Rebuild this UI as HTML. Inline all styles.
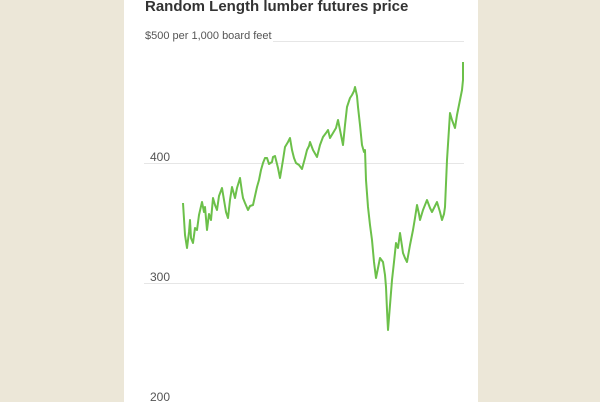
<!DOCTYPE html>
<html><head><style>
body{margin:0;width:600px;height:402px;overflow:hidden;background:#ece7d8;font-family:"Liberation Sans",sans-serif}
.p{position:absolute;left:124px;top:0;width:354px;height:402px;background:#fff}
</style></head><body>
<div class="p"></div>
<svg width="600" height="402" style="position:absolute;left:0;top:0">
<text x="145" y="11" font-size="15" font-weight="bold" fill="#333">Random Length lumber futures price</text>
<g stroke="#e6e6e6" stroke-width="1">
<line x1="273" y1="41.5" x2="464" y2="41.5"/>
<line x1="144" y1="163.5" x2="464" y2="163.5"/>
<line x1="144" y1="283.5" x2="464" y2="283.5"/>
</g>
<g font-size="12" fill="#555">
<text x="145" y="39" font-size="11">$500 per 1,000 board feet</text>
<text x="150" y="161">400</text>
<text x="150" y="281">300</text>
<text x="150" y="401">200</text>
</g>
<polyline fill="none" stroke="#6cc04a" stroke-width="2" stroke-linejoin="round" points="183,203 185,235 187,248 189,232 190,220 191,238 193,243 195,228 197,230 199,215 202,202 204,212 205,207 207,230 209,214 211,220 213,198 215,205 217,210 219,196 222,188 224,200 226,212 228,218 230,200 232,187 235,198 237,188 240,178 242,192 243,198 245,203 248,210 250,206 253,205 255,196 257,187 259,180 261,170 263,163 265,158 267,158 269,164 272,162 273,157 275,156 278,168 280,178 283,160 285,147 288,142 290,138 292,150 294,158 296,163 299,165 302,169 305,158 307,150 309,146 310,142 313,150 317,157 320,145 323,137 326,133 328,130 330,138 333,133 336,128 338,120 340,130 343,145 345,125 347,107 350,98 352,95 354,91 355,87 357,96 358,107 360,125 362,145 364,152 365,150 366,180 368,207 370,225 372,240 374,262 376,278 378,268 380,258 383,262 385,275 386,287 387,310 388,330 390,305 392,280 394,262 396,243 398,248 400,233 402,246 403,253 405,258 407,262 410,245 413,230 415,218 417,205 419,214 420,220 423,210 427,200 430,208 432,212 435,206 437,202 440,212 442,220 444,214 445,207 447,160 450,113 452,120 455,128 457,115 460,100 462,90 463,80 463,62"/>
</svg>
</body></html>
